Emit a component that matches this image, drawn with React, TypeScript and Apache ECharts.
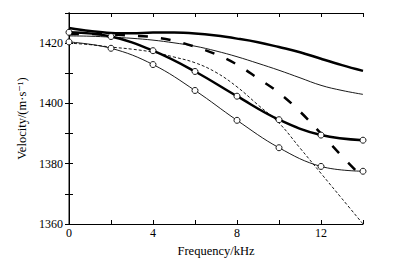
import React, { useEffect, useRef } from "react";
import * as echarts from "echarts";

const freqFull = [0, 1, 2, 3, 4, 5, 6, 7, 8, 9, 10, 11, 12, 13, 14];
const thickSolid = [1425, 1424, 1423.4, 1423.3, 1423.5, 1423.5, 1423.2, 1422.5, 1421.5, 1420.3, 1418.7, 1417, 1414.8, 1412.7, 1410.8];
const thinSolid = [1422.4, 1422.3, 1422, 1421.6, 1421, 1420.1, 1419, 1417.4, 1415.5, 1413.3, 1411, 1408.5, 1406, 1404.3, 1403];
const thickDashed = [1423, 1423, 1422.8, 1422.5, 1422, 1420.8, 1418.8, 1416.3, 1412.9, 1408.3, 1403.5, 1397.3, 1390, 1382.5, 1375.3];
const fineDashed = [1420, 1419.5, 1418.7, 1418, 1417, 1415.4, 1413.5, 1410.3, 1405.5, 1399.5, 1393.5, 1385.2, 1376.8, 1368.4, 1360];
const freqMarked = [0, 2, 4, 6, 8, 10, 12, 14];
const thickMarked = [1423.6, 1422.2, 1417.5, 1410.6, 1402.4, 1394.6, 1389.5, 1387.8];
const thinMarked = [1420.4, 1418.3, 1412.9, 1404.3, 1394.4, 1385.3, 1379.1, 1377.5];

const xLabels = [0, 4, 8, 12];
const yLabels = [1360, 1380, 1400, 1420];

const pair = (xs: number[], ys: number[]) => xs.map((x, i) => [x, ys[i]]);

const FONT = "'Liberation Serif', 'Times New Roman', 'DejaVu Serif', serif";

export default function App() {
  const ref = useRef<HTMLDivElement>(null);
  useEffect(() => {
    if (!ref.current) return;
    const chart = echarts.init(ref.current, null, { renderer: "svg" });
    const lineSeries = (data: number[][], width: number, type: any, marked: boolean, z: number) => ({
      type: "line",
      data,
      smooth: 0.4,
      showSymbol: marked,
      symbol: "circle",
      symbolSize: 6,
      itemStyle: { color: "#fff", borderColor: "#000", borderWidth: 0.9 },
      lineStyle: { color: "#000", width, type },
      z,
      silent: true,
    });
    chart.setOption({
      animation: false,
      backgroundColor: "#fff",
      textStyle: { fontFamily: FONT },
      grid: { left: 69, right: 31, top: 13, bottom: 32 },
      xAxis: [
        {
          type: "value",
          min: 0,
          max: 14,
          interval: 2,
          name: "Frequency/kHz",
          nameLocation: "middle",
          nameGap: 20,
          nameTextStyle: { fontFamily: FONT, fontSize: 12.5, color: "#000" },
          axisLine: { lineStyle: { color: "#000", width: 1 } },
          axisTick: { inside: true, length: 4, lineStyle: { color: "#000" } },
          axisLabel: {
            fontFamily: FONT,
            fontSize: 12,
            color: "#000",
            margin: 3,
            formatter: (v: number) => (xLabels.includes(v) ? String(v) : ""),
          },
          splitLine: { show: false },
        },
        {
          type: "value",
          position: "top",
          min: 0,
          max: 14,
          interval: 2,
          axisLine: { show: true, lineStyle: { color: "#000", width: 1 } },
          axisTick: { inside: true, length: 4, lineStyle: { color: "#000" } },
          axisLabel: { show: false },
          splitLine: { show: false },
        },
      ],
      yAxis: [
        {
          type: "value",
          min: 1360,
          max: 1430,
          interval: 10,
          name: "Velocity/(m·s⁻¹)",
          nameLocation: "middle",
          nameGap: 28,
          nameRotate: 90,
          nameTextStyle: { fontFamily: FONT, fontSize: 12.5, color: "#000" },
          axisLine: { show: true, lineStyle: { color: "#888", width: 2 } },
          axisTick: { inside: true, length: 4, lineStyle: { color: "#000" } },
          axisLabel: {
            fontFamily: FONT,
            fontSize: 12,
            color: "#000",
            margin: 6,
            formatter: (v: number) => (yLabels.includes(v) ? String(v) : ""),
          },
          splitLine: { show: false },
        },
        {
          type: "value",
          position: "right",
          min: 1360,
          max: 1430,
          interval: 10,
          axisLine: { show: true, lineStyle: { color: "#000", width: 1 } },
          axisTick: { inside: true, length: 4, lineStyle: { color: "#000" } },
          axisLabel: { show: false },
          splitLine: { show: false },
        },
      ],
      series: [
        lineSeries(pair(freqFull, thickSolid), 2.5, "solid", false, 3),
        lineSeries(pair(freqFull, thinSolid), 0.9, "solid", false, 3),
        lineSeries(pair(freqFull, thickDashed), 2.5, [10, 13], false, 3),
        lineSeries(pair(freqFull, fineDashed), 0.9, [3, 2], false, 3),
        lineSeries(pair(freqMarked, thickMarked), 2.5, "solid", true, 4),
        lineSeries(pair(freqMarked, thinMarked), 0.9, "solid", true, 4),
      ],
    });
    return () => chart.dispose();
  }, []);
  return (
    <div
      ref={ref}
      style={{ position: "absolute", left: 0, top: 0, width: 394, height: 262, background: "#fff" }}
    />
  );
}
